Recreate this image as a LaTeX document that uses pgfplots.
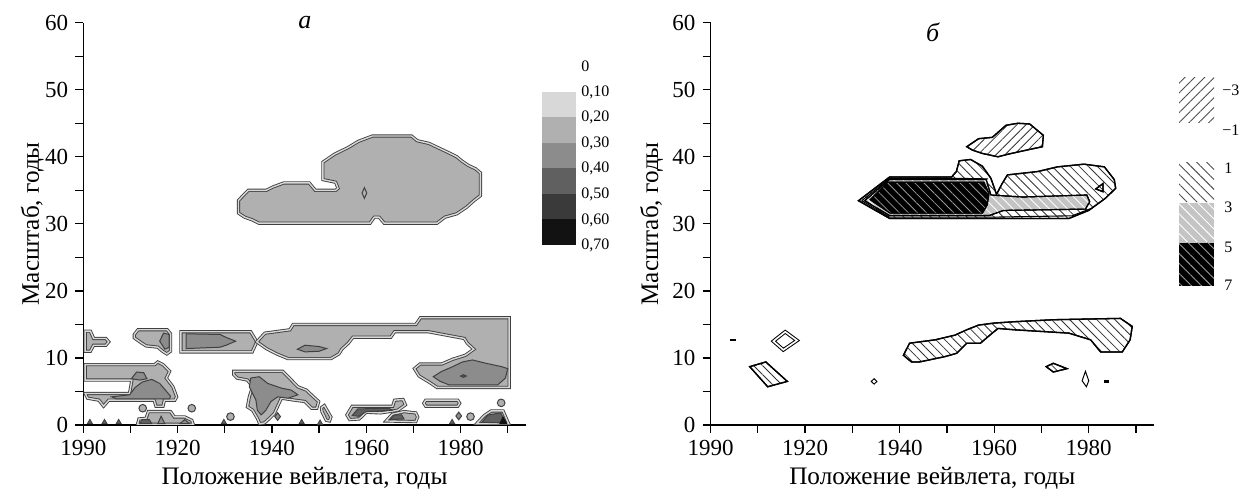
\documentclass[border=0pt]{standalone}
\usepackage{fontspec}
\setmainfont{Liberation Serif}
\usepackage{pgfplots}
\pgfplotsset{compat=1.18}
\usetikzlibrary{patterns.meta}
\definecolor{cL1}{HTML}{D8D8D8}
\definecolor{cL2}{HTML}{B0B0B0}
\definecolor{cL3}{HTML}{8C8C8C}
\definecolor{cL4}{HTML}{606060}
\definecolor{cL5}{HTML}{3A3A3A}
\definecolor{cL6}{HTML}{121212}
\definecolor{cLine}{HTML}{404040}
\definecolor{cG}{HTML}{C4C4C4}
\pgfplotsset{
  wv/.style={scale only axis, width=221.2pt, height=201.15pt,
    xmin=1900, xmax=1993.8, ymin=0, ymax=60, clip mode=individual,
    axis x line=bottom, axis y line=left,
    axis line style={-, line width=0.75pt, black},
    tick align=outside, major tick length=4pt,
    every tick/.style={black, line width=0.65pt},
    xtick={1900,1910,...,1990}, xticklabels={1990,,1920,,1940,,1960,,1980,},
    ytick={0,5,...,60}, yticklabels={0,,10,,20,,30,,40,,50,,60},
    tick label style={font=\fontsize{11.5}{13}\selectfont},
    label style={font=\fontsize{12.6}{14}\selectfont},
    /pgf/number format/assume math mode=true,
    xlabel={Положение вейвлета, годы}, ylabel={Масштаб, годы},
    x label style={at={(axis description cs:0.5,-0.1317)}, anchor=center},
  },
  lev2/.style={fill=cL2, draw=cLine, line width=0.45pt, double=cL1, double distance=0.7pt},
  lev3/.style={fill=cL3, draw=cLine, line width=0.5pt},
  lev4/.style={fill=cL4, draw=cLine, line width=0.5pt},
  hatchB/.style={fill=white, draw=black, line width=0.65pt,
    postaction={pattern={Lines[angle=-45,distance=3.2pt,line width=0.4pt]}, pattern color=black!80}},
  hatchF/.style={fill=white, draw=black, line width=0.65pt,
    postaction={pattern={Lines[angle=45,distance=3.2pt,line width=0.4pt]}, pattern color=black!80}},
}
\begin{document}
\begin{tikzpicture}
\path[use as bounding box] (0,0) rectangle (619.5pt,245pt);
% ---------------- panel a ----------------
\begin{axis}[wv, at={(41.65pt,32.5pt)}, anchor=south west,
  y label style={at={(axis description cs:-0.1153,0.5)}, anchor=center}]
% upper cloud
\addplot[lev2] coordinates {(1932.9,33.5) (1932.9,31.6) (1934.2,31.0) (1935.8,30.6) (1937.2,30.1) (1960.8,30.1) (1961.7,31.0) (1962.7,31.0) (1963.8,30.1) (1975,30.1) (1976.7,31.0) (1979.2,31.5) (1981.3,32.5) (1982.9,33.5) (1984.2,34.2) (1984.2,37.6) (1983.2,38.2) (1981.7,38.7) (1980.4,39.3) (1979.2,40.0) (1977.5,40.6) (1975.4,41.3) (1973.3,42.0) (1970.8,42.4) (1969.6,43.1) (1961.3,43.1) (1958.3,42.3) (1956.2,41.4) (1953.3,40.4) (1950.8,39.2) (1950.8,36.6) (1953.5,36.2) (1954.0,35.3) (1953.5,35.0) (1949.2,35.0) (1947.9,36.1) (1942.5,36.1) (1940.2,35.5) (1938.8,35.0) (1935.0,35.0) (1934.0,34.3)} --cycle;
\addplot[fill=cL2, draw=cLine, line width=0.5pt] coordinates {(1959.1,34.6) (1959.6,35.4) (1960.1,34.6) (1959.6,33.8)} --cycle;
% lower structures
\addplot[lev2] coordinates {(1900.4,14.0) (1901.5,14.0) (1902.2,12.9) (1904.8,12.9) (1905.4,12.4) (1904.8,11.9) (1902.2,11.9) (1901.5,11.0) (1900.4,11.0)} --cycle;
\addplot[lev2] coordinates {(1910.8,13.5) (1911.6,14.2) (1917.8,14.2) (1918.5,13.6) (1918.5,11.0) (1917.7,10.6) (1916.8,11.0) (1915.8,11.6) (1913.3,11.8) (1912.2,12.3) (1910.8,13.0)} --cycle;
\addplot[lev3] coordinates {(1916.2,12.5) (1917.0,13.7) (1918.2,13.5) (1918.2,11.6) (1917.3,11.3)} --cycle;
\addplot[lev2] coordinates {(1920.7,10.9) (1920.7,13.9) (1935.5,13.9) (1936.8,12.4) (1935.8,10.9)} --cycle;
\addplot[lev3] coordinates {(1921.8,11.4) (1921.8,13.6) (1929,13.5) (1930.5,13.0) (1932.3,12.5) (1930.3,11.9) (1929,11.6)} --cycle;
\addplot[lev2] coordinates {(1936.8,12.4) (1938.5,13.7) (1943.8,14.2) (1944.5,15.0) (1970.5,15.0) (1971.5,16.0) (1990.3,16.0) (1990.3,5.6) (1975,5.6) (1973.3,6.4) (1971.2,7.3) (1970.2,8.4) (1971.4,9.1) (1976,9.1) (1978.3,9.8) (1981,10.4) (1982.8,11.3) (1981.4,12.2) (1980.8,12.9) (1973.2,13.9) (1966,13.9) (1965.2,13.1) (1957.2,13.1) (1956.2,12.2) (1954.8,11.3) (1954.2,10.6) (1952.5,9.9) (1943.4,9.9) (1941,10.6) (1938.8,11.4)} --cycle;
\addplot[lev3] coordinates {(1945.4,11.3) (1947,11.9) (1950,11.7) (1951.6,11.4) (1950,11.0) (1947,10.9)} --cycle;
\addplot[lev3] coordinates {(1974.2,7.2) (1976,8.0) (1978,8.6) (1980.4,9.4) (1982.5,9.7) (1985.4,9.2) (1988.7,8.7) (1990,8.4) (1989.5,7.0) (1987.9,6.0) (1977.5,6.0) (1975.7,6.5)} --cycle;
\addplot[lev4] coordinates {(1980.0,7.3) (1980.6,7.5) (1981.2,7.3) (1980.6,7.1)} --cycle;
\addplot[lev2] coordinates {(1900.4,9.0) (1915.1,9.0) (1915.8,9.4) (1916.9,9.0) (1918.3,8.0) (1917.6,7.0) (1919.0,5.7) (1919.8,4.2) (1919.4,3.7) (1917.2,3.7) (1916.9,2.8) (1915.4,2.8) (1915.0,3.7) (1905.4,3.7) (1904.3,2.8) (1903.3,3.7) (1900.9,4.0) (1900.4,4.7) (1909.8,4.7) (1910.3,6.7) (1900.4,6.7)} --cycle;
\addplot[lev3] coordinates {(1909.8,4.5) (1911,5.6) (1912.5,6.4) (1914.5,6.8) (1916.2,6.2) (1918.5,4.3) (1918.3,3.9) (1907,3.9) (1906,4.2)} --cycle;
\addplot[lev3] coordinates {(1910.2,6.9) (1911.3,7.9) (1912.8,7.8) (1913.5,6.9) (1912,6.7)} --cycle;
\addplot[lev2] coordinates {(1931.9,8.0) (1942.3,8.0) (1945.5,5.7) (1947.3,5.2) (1948.8,4.2) (1949.9,3.5) (1949.5,2.5) (1948.4,2.5) (1947,3.5) (1944.8,3.7) (1942,4.0) (1940.5,1.7) (1939.5,1.0) (1938.4,0.3) (1937.4,0.2) (1936.9,1.0) (1935.9,2.2) (1934.8,2.7) (1935.2,4.2) (1935.9,5.7) (1934.8,6.7) (1932.6,7.0) (1931.9,7.5)} --cycle;
\addplot[lev3] coordinates {(1935.5,7.0) (1937.3,7.2) (1939.1,6.2) (1942,5.5) (1944.1,5.2) (1945.5,4.5) (1943.4,4.0) (1941.2,4.2) (1939.8,3.5) (1938.7,2.2) (1937.7,1.5) (1936.9,2.2) (1936.6,3.7) (1935.9,4.7) (1935.2,5.7)} --cycle;
\addplot[lev2] coordinates {(1950.5,2.6) (1951.1,2.9) (1952.5,1.2) (1952.2,0.6) (1951.5,0.7) (1950.6,2.0)} --cycle;
\addplot[lev2] coordinates {(1955.9,1.5) (1957,2.8) (1965.6,2.8) (1966,3.7) (1967.8,3.8) (1968.3,3.0) (1966.7,2.2) (1963,1.8) (1960,1.9) (1958.5,0.9) (1956.5,0.8)} --cycle;
\addplot[lev4] coordinates {(1957,1.4) (1958.2,2.4) (1964.8,2.5) (1965.5,2.2) (1960,2.0) (1958.4,1.3)} --cycle;
\addplot[lev2] coordinates {(1964.2,0.6) (1965.5,1.6) (1968,2.0) (1970.5,1.8) (1970.9,1.2) (1970.5,0.5)} --cycle;
\addplot[lev4] coordinates {(1965,0.8) (1966,1.5) (1967.5,1.5) (1968,0.9)} --cycle;
\addplot[lev2] coordinates {(1972.6,2.8) (1972.2,3.25) (1972.6,3.7) (1979.4,3.7) (1979.8,3.25) (1979.4,2.8)} --cycle;
\addplot[lev2] coordinates {(1983.4,0.2) (1985,1.4) (1986.5,2.1) (1989,2.1) (1989.8,0.8) (1990.2,0.2)} --cycle;
\addplot[lev4] coordinates {(1984.5,0.4) (1985.8,1.5) (1988.5,1.8) (1989.3,0.7) (1989.5,0.3)} --cycle;
\addplot[fill=cL6, draw=cL6] coordinates {(1988.3,0.2) (1989,1.2) (1989.8,0.2)} --cycle;
\addplot[lev2] coordinates {(1911.5,0.1) (1911.8,0.9) (1913.3,1.0) (1913.8,2.0) (1918.5,2.0) (1919.3,1.2) (1921.5,1.2) (1923,0.7) (1923.3,0.1)} --cycle;
\addplot[lev4] coordinates {(1912,0.2) (1912.5,0.8) (1914,0.8) (1914.5,0.2)} --cycle;
\addplot[lev3] coordinates {(1915.8,0.2) (1916.5,1.3) (1917.3,0.2)} --cycle;
\addplot[lev3] coordinates {(1920.5,0.2) (1921.5,0.8) (1922.5,0.2)} --cycle;
\addplot[only marks, mark=*, mark size=1.9pt, mark options={fill=cL2, draw=cLine, line width=0.5pt}]
  coordinates {(1912.6,2.5) (1923,2.5) (1931.2,1.25) (1982.1,1.25) (1988.6,3.3)};
\addplot[only marks, mark=diamond*, mark size=1.9pt, mark options={fill=cL3, draw=cLine, line width=0.5pt}]
  coordinates {(1941.2,1.25) (1979.6,1.35)};
\addplot[only marks, mark=triangle*, mark size=1.5pt, mark options={fill=cL4, draw=cLine, line width=0.4pt}]
  coordinates {(1901.4,0.4) (1904.5,0.4) (1907.5,0.4) (1929.8,0.4) (1946.3,0.4) (1950.2,0.3) (1978.2,0.4)};
\node[font=\itshape\fontsize{13}{15}\selectfont] at (axis description cs:0.501,1.0) {а};
\end{axis}
% colour scale a
\fill[cL1] (270.85pt,199.15pt) rectangle (288pt,186.375pt);
\fill[cL2] (270.85pt,186.375pt) rectangle (288pt,173.6pt);
\fill[cL3] (270.85pt,173.6pt) rectangle (288pt,160.825pt);
\fill[cL4] (270.85pt,160.825pt) rectangle (288pt,148.05pt);
\fill[cL5] (270.85pt,148.05pt) rectangle (288pt,135.275pt);
\fill[cL6] (270.85pt,135.275pt) rectangle (288pt,122.5pt);
\begin{scope}[every node/.style={anchor=west, font=\fontsize{8}{9.6}\selectfont, inner sep=0pt}]
\node at (290.5pt,211.65pt) {0};
\node at (290.5pt,198.875pt) {0,10};
\node at (290.5pt,186.1pt) {0,20};
\node at (290.5pt,173.325pt) {0,30};
\node at (290.5pt,160.55pt) {0,40};
\node at (290.5pt,147.775pt) {0,50};
\node at (290.5pt,135.0pt) {0,60};
\node at (290.5pt,122.225pt) {0,70};
\end{scope}
% ---------------- panel b ----------------
\begin{axis}[wv, width=221.75pt, at={(355.25pt,32.5pt)}, anchor=south west,
  y label style={at={(axis description cs:-0.133,0.5)}, anchor=center}]
\addplot[hatchB] coordinates {(1931.3,33.45) (1937.9,37.0) (1951,37.0) (1952,37.8) (1952.6,39.4) (1955,39.6) (1957.5,38.6) (1959.3,36.8) (1960.5,34.4) (1961.6,35.9) (1962.8,37.3) (1969.2,37.8) (1973.4,38.5) (1979,38.9) (1983.3,38.5) (1985.4,36.6) (1985.7,35.3) (1983.5,33.8) (1980,32.0) (1975.8,30.8) (1937.9,30.8)} --cycle;
\addplot[draw=black, line width=0.55pt] coordinates {(1932.0,33.45) (1937.85,36.8) (1951.2,36.8) (1958.7,36.7)};
\addplot[draw=black, line width=0.55pt] coordinates {(1932.0,33.45) (1937.85,31.0) (1960,31.0) (1976.5,31.2) (1980.5,32.3)};
\addplot[fill=cG, draw=black, line width=0.6pt, postaction={pattern={Lines[angle=-45,distance=3.2pt,line width=0.4pt]}, pattern color=white}] coordinates {(1932.6,33.45) (1937.8,36.6) (1958.3,36.6) (1959.3,34.3) (1966,34.0) (1979.6,34.3) (1980.2,33.3) (1979.3,32.2) (1962,32.0) (1959,31.25) (1937.8,31.25)} --cycle;
\addplot[fill=black, draw=black, line width=0.6pt, postaction={pattern={Lines[angle=-45,distance=3.2pt,line width=0.4pt]}, pattern color=black!40}] coordinates {(1933.8,33.6) (1937.5,36.2) (1957.8,36.2) (1958.9,34.5) (1958.5,32.8) (1957.5,31.6) (1938,31.6)} --cycle;
\addplot[hatchB] coordinates {(1981.5,35.2) (1983,36.0) (1983,34.8)} --cycle;
\addplot[hatchF] coordinates {(1954.2,41.5) (1956.7,42.7) (1959.6,42.9) (1962.5,44.7) (1965,45.0) (1967.5,44.9) (1970.4,43.2) (1970.2,41.5) (1967.5,41.1) (1963,40.4) (1960.8,40.0) (1957.5,40.5) (1955.4,41.0)} --cycle;
\addplot[hatchB] coordinates {(1940.8,10.4) (1942.1,12.2) (1947.5,12.7) (1951.7,13.4) (1954.2,14.2) (1956.7,14.9) (1960,15.2) (1964.2,15.4) (1972.5,15.7) (1986.7,15.9) (1989.2,14.7) (1988.75,12.7) (1987.1,10.9) (1982.5,10.9) (1980.4,12.7) (1975.8,13.7) (1964.2,14.2) (1960.8,14.4) (1958.75,13.2) (1957.1,12.2) (1954.2,12.2) (1952.1,10.7) (1949.6,10.2) (1944.2,9.4) (1942.5,9.4)} --cycle;
\addplot[fill=white, draw=black, line width=0.5pt, double=white, double distance=0.8pt] coordinates {(1913.3,12.5) (1915.8,13.9) (1918.3,12.6) (1915.4,11.2)} --cycle;
\addplot[hatchB] coordinates {(1908.3,8.7) (1911.7,9.4) (1916.25,6.5) (1912.1,5.7)} --cycle;
\addplot[fill=white, draw=black, line width=0.5pt] coordinates {(1934.0,6.5) (1934.6,6.9) (1935.2,6.5) (1934.6,6.1)} --cycle;
\addplot[hatchB] coordinates {(1971,8.7) (1972.5,9.2) (1975.4,8.4) (1972.5,7.9)} --cycle;
\addplot[fill=white, draw=black, line width=0.5pt] coordinates {(1979.3,8.0) (1980.0,6.6) (1979.5,5.7) (1978.6,6.6)} --cycle;
\addplot[black, line width=1.1pt] coordinates {(1904.1,12.7) (1905.3,12.7)};
\addplot[black, line width=1.1pt] coordinates {(1983.3,6.5) (1984.2,6.5)};
\node[font=\itshape\fontsize{13}{15}\selectfont] at (axis description cs:0.501,0.976) {б};
\end{axis}
% legend b
\path[pattern={Lines[angle=45,distance=3.5pt,line width=0.45pt]}, pattern color=black!70] (589.5pt,183.5pt) rectangle (607pt,206pt);
\path[pattern={Lines[angle=-45,distance=3.5pt,line width=0.45pt]}, pattern color=black!70] (589.5pt,143.5pt) rectangle (607pt,163.5pt);
\fill[cG] (589.5pt,123.5pt) rectangle (607pt,143.5pt);
\path[pattern={Lines[angle=-45,distance=3.5pt,line width=0.45pt]}, pattern color=white] (589.5pt,123.5pt) rectangle (607pt,143.5pt);
\fill[black] (589.5pt,102pt) rectangle (607pt,123.5pt);
\path[pattern={Lines[angle=-45,distance=3.5pt,line width=0.45pt]}, pattern color=black!40] (589.5pt,102pt) rectangle (607pt,123.5pt);
\begin{scope}[every node/.style={anchor=west, font=\fontsize{8}{9.6}\selectfont, inner sep=0pt}]
\node at (611pt,200pt) {−3};
\node at (611pt,180pt) {−1};
\node at (612pt,161pt) {1};
\node at (612pt,141.5pt) {3};
\node at (612pt,121.5pt) {5};
\node at (612pt,102.5pt) {7};
\end{scope}
\end{tikzpicture}
\end{document}
